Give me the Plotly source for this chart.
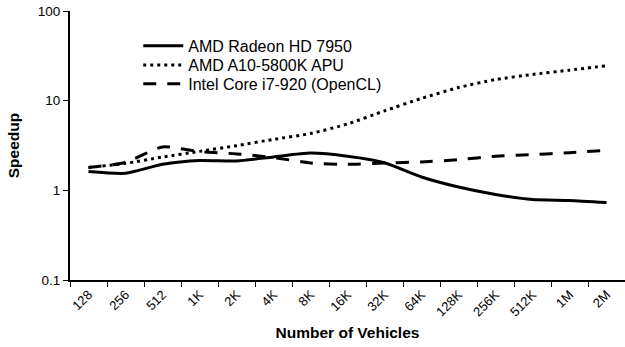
import plotly.graph_objects as go

categories = ["128", "256", "512", "1K", "2K", "4K", "8K", "16K", "32K",
              "64K", "128K", "256K", "512K", "1M", "2M"]
radeon = [1.62, 1.55, 1.95, 2.15, 2.13, 2.36, 2.6, 2.4, 2.03, 1.41, 1.09, 0.9, 0.79, 0.77, 0.73]
apu = [1.8, 2.0, 2.35, 2.72, 3.15, 3.7, 4.3, 5.5, 7.7, 10.6, 14.0, 17.2, 19.6, 21.9, 24.5]
intel = [1.8, 2.05, 3.05, 2.7, 2.55, 2.32, 2.02, 1.95, 2.02, 2.07, 2.2, 2.4, 2.5, 2.63, 2.8]

series_names = ["AMD Radeon HD 7950", "AMD A10-5800K APU", "Intel Core i7-920 (OpenCL)"]
y_ticks = [0.1, 1, 10, 100]
y_tick_text = ["0.1", "1", "10", "100"]

font_family = "Liberation Sans, Arial, sans-serif"

fig = go.Figure()
fig.add_trace(go.Scatter(x=categories, y=radeon, name=series_names[0], mode="lines",
                         legend="legend",
                         line=dict(color="black", width=3, shape="spline", smoothing=0.6)))
fig.add_trace(go.Scatter(x=categories, y=apu, name=series_names[1], mode="lines",
                         legend="legend2",
                         line=dict(color="black", width=3, dash="3px,4px", shape="spline", smoothing=0.6)))
fig.add_trace(go.Scatter(x=categories, y=intel, name=series_names[2], mode="lines",
                         legend="legend3",
                         line=dict(color="black", width=3, dash="13px,11px", shape="spline", smoothing=0.6)))

leg_common = dict(x=0.123, xanchor="left", yanchor="middle",
                  bgcolor="rgba(0,0,0,0)", font=dict(size=16), itemwidth=40)

fig.update_layout(
    width=625, height=347,
    margin=dict(l=70, r=0, t=11, b=67),
    paper_bgcolor="white", plot_bgcolor="white",
    font=dict(family=font_family, size=13, color="black"),
    showlegend=True,
    legend=dict(y=0.870, **leg_common),
    legend2=dict(y=0.799, **leg_common),
    legend3=dict(y=0.729, **leg_common),
    xaxis=dict(
        type="category", range=[-0.5, 14.5],
        showline=True, linecolor="black", linewidth=2,
        ticks="outside", tickson="boundaries", ticklen=5, tickcolor="black", tickwidth=1,
        tickangle=-45, tickfont=dict(size=13),
        showgrid=False, zeroline=False,
        title=dict(text="<b>Number of Vehicles</b>", font=dict(size=15.5), standoff=9),
    ),
    yaxis=dict(
        type="log", range=[-1, 2],
        tickvals=y_ticks, ticktext=y_tick_text,
        showline=True, linecolor="black", linewidth=2,
        ticks="outside", ticklen=5, tickcolor="black", tickwidth=1,
        tickfont=dict(size=13.5),
        showgrid=False, zeroline=False,
        title=dict(text="<b>Speedup</b>", font=dict(size=15.5), standoff=14),
    ),
)

fig.write_html("out.html")
